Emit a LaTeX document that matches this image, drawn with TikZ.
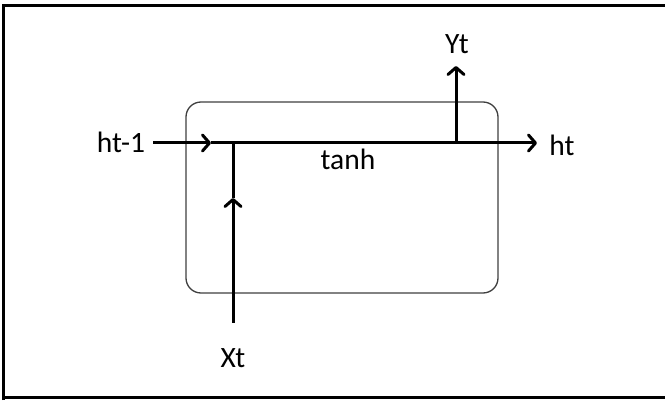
\documentclass[tikz,border=0pt]{standalone}
\usepackage{fontspec}
\setmainfont{Carlito}
\usetikzlibrary{arrows.meta}
\begin{document}
\begin{tikzpicture}[x=1pt,y=-1pt,
  flow/.style={line width=3pt,-{Straight Barb[length=7pt,width=16pt,round]}},
  plain/.style={line width=3pt},
  lbl/.style={inner sep=0pt,anchor=base,font=\fontsize{29.5}{32}\selectfont},
  cell/.style={draw=black!75,line width=1.3pt,rounded corners=15pt}]
\useasboundingbox (0,0) rectangle (665,401);
\fill[white] (0,0) rectangle (665,401);
% outer frame
\draw[line width=3pt] (3.5,400) -- (3.5,5.5) -- (670,5.5);
\draw[line width=3pt] (3.5,397) -- (670,397);
% cell
\draw[cell] (186,102) rectangle (498,293);
% labels
\node[lbl] (hin) at (121,153) {ht-1};
\node[lbl] (hout) at (562,156) {ht};
\node[lbl] (yt) at (457,54) {Yt};
\node[lbl] (xt) at (233,367) {Xt};
\node[lbl] (tanh) at (348,170) {tanh};
% coordinates
\coordinate (a) at (153,143);
\coordinate (b) at (211,143);
\coordinate (j) at (233,143);
\coordinate (k) at (456,143);
\coordinate (e) at (537,143);
\coordinate (xs) at (233,323);
\coordinate (xm) at (233,198);
\coordinate (ye) at (456,66);
% connectors
\draw[flow] (a) -- (b);
\draw[plain] (b) -- (k);
\draw[flow] (k) -- (e);
\draw[flow] (xs) -- (xm);
\draw[plain] (xm) -- (j);
\draw[flow] (k) -- (ye);
\end{tikzpicture}
\end{document}
